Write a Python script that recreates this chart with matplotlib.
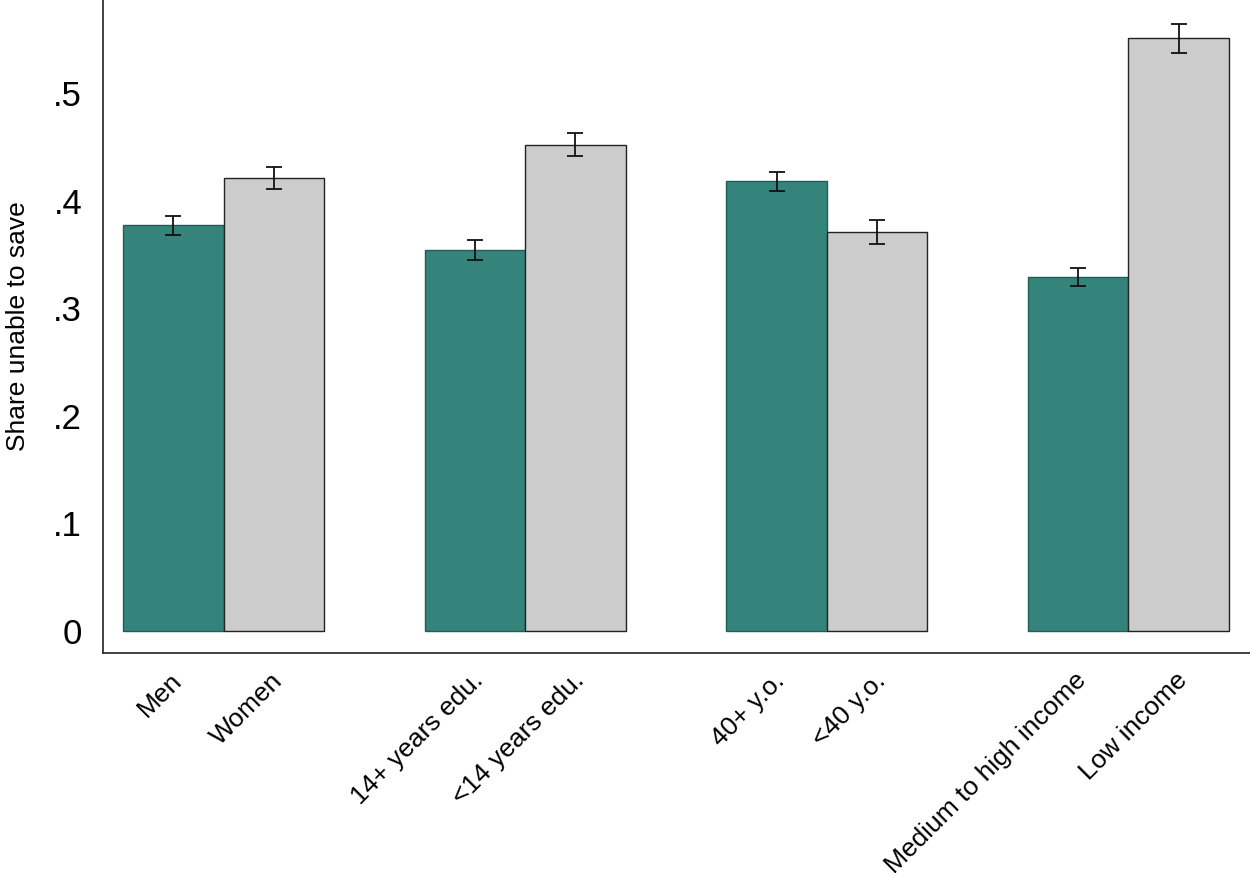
import matplotlib.pyplot as plt
import matplotlib.transforms as mtransforms

plt.rcParams['font.family'] = ['Liberation Sans', 'DejaVu Sans']

labels = ['Men', 'Women', '14+ years edu.', '<14 years edu.',
          '40+ y.o.', '<40 y.o.', 'Medium to high income', 'Low income']
positions = [0, 1, 3, 4, 6, 7, 9, 10]
shares = [0.377, 0.421, 0.354, 0.452, 0.418, 0.371, 0.329, 0.551]
errors = [0.009, 0.0105, 0.009, 0.011, 0.009, 0.011, 0.008, 0.0135]

teal = '#35847c'
grey = '#cccccc'
colors = [teal, grey] * 4
edges = ['#1f5f58', '#222222'] * 4

fig = plt.figure(figsize=(12.5, 8.77), dpi=100)
ax = fig.add_axes([103 / 1250, 1 - 653 / 877, 1 - 103 / 1250, 653 / 877])

ax.bar(positions, shares, width=1.0, color=colors, edgecolor=edges, linewidth=1.0)
ax.errorbar(positions, shares, yerr=errors, fmt='none', ecolor='#111111',
            elinewidth=1.3, capsize=5.8, capthick=1.3)

ax.set_xlim(-0.70, 10.71)
ax.set_ylim(-0.0204, 0.5864)
ax.set_yticks([0, 0.1, 0.2, 0.3, 0.4, 0.5])
ax.set_yticklabels(['0', '.1', '.2', '.3', '.4', '.5'], fontsize=25)
ax.set_xticks(positions)
ax.set_xticklabels(labels, rotation=45, ha='right', va='top',
                   rotation_mode='anchor', fontsize=19)
ax.tick_params(axis='y', length=0, pad=15)
ax.tick_params(axis='x', length=0, pad=11)
ax.set_ylabel('Share unable to save', fontsize=19, labelpad=17)

shift = mtransforms.ScaledTranslation(-4 / 100, 0, fig.dpi_scale_trans)
for lab in ax.get_xticklabels():
    lab.set_transform(lab.get_transform() + shift)

for s in ['top', 'right']:
    ax.spines[s].set_visible(False)
for s in ['left', 'bottom']:
    ax.spines[s].set_color('#333333')
    ax.spines[s].set_linewidth(1.3)

fig.savefig('out.png', dpi=100)
